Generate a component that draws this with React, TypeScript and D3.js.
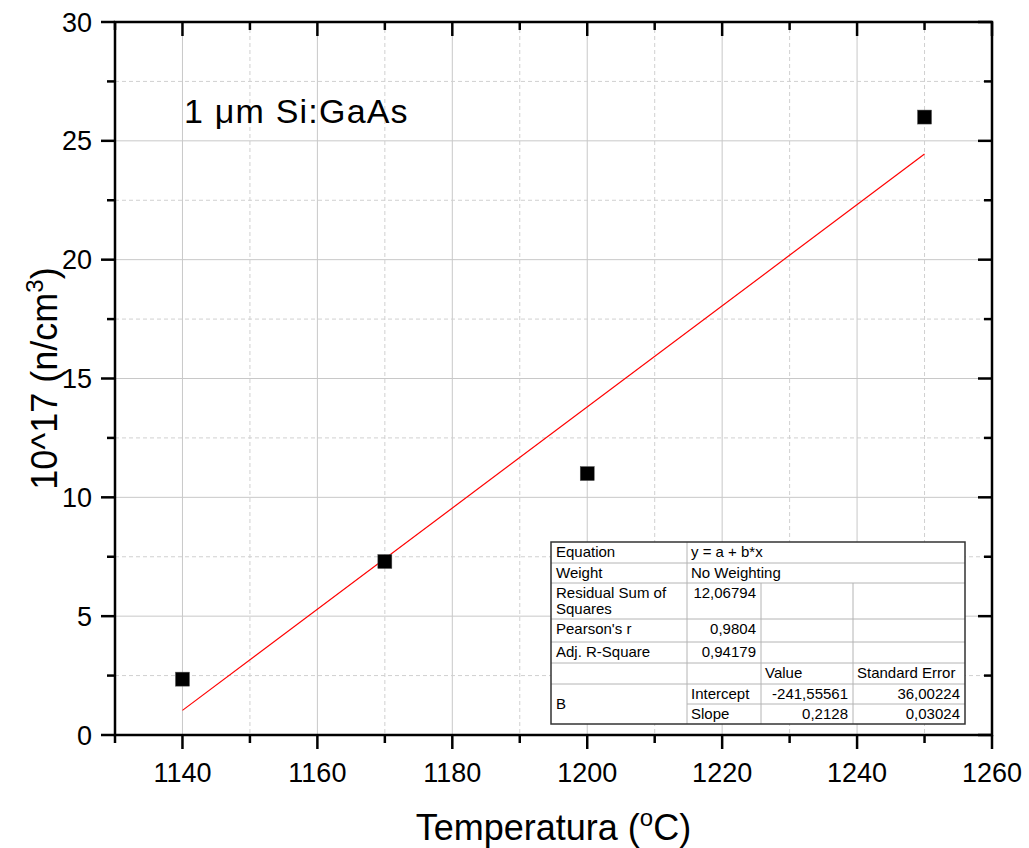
import { useEffect, useRef } from "react";
import * as d3 from "d3";

// data
const temperatures = [1140, 1170, 1200, 1250];
const concentrations = [2.35, 7.3, 11.0, 26.0];
const fitIntercept = -241.55561;
const fitSlope = 0.2128;
const xTicks = [1140, 1160, 1180, 1200, 1220, 1240, 1260];
const yTicks = [0, 5, 10, 15, 20, 25, 30];

const tableRows = [
  ["Equation", "y = a + b*x"],
  ["Weight", "No Weighting"],
  ["Residual Sum of|Squares", "12,06794"],
  ["Pearson's r", "0,9804"],
  ["Adj. R-Square", "0,94179"],
];
const tableParams = [
  ["Intercept", "-241,55561", "36,00224"],
  ["Slope", "0,2128", "0,03024"],
];

export default function App() {
  const ref = useRef<SVGSVGElement>(null);

  useEffect(() => {
    const svg = d3.select(ref.current);
    svg.selectAll("*").remove();
    const W = 1029, H = 848;
    const m = { left: 115, right: 992, top: 22, bottom: 735 };
    const font = "Liberation Sans, Arial, Helvetica, sans-serif";

    const x = d3.scaleLinear().domain([1130, 1260]).range([m.left, m.right]);
    const y = d3.scaleLinear().domain([0, 30]).range([m.bottom, m.top]);

    const g = svg.append("g");

    // grid
    const xMinor = d3.range(1130, 1261, 10).filter((v) => v % 20 !== 0);
    const yMinor = d3.range(2.5, 30, 5);
    g.selectAll(".gx").data(xTicks.slice(0, -1)).join("line")
      .attr("x1", (d) => x(d)).attr("x2", (d) => x(d))
      .attr("y1", m.top).attr("y2", m.bottom)
      .attr("stroke", "#c8c8c8").attr("stroke-width", 1);
    g.selectAll(".gxm").data(xMinor.filter((v) => v > 1130)).join("line")
      .attr("x1", (d) => x(d)).attr("x2", (d) => x(d))
      .attr("y1", m.top).attr("y2", m.bottom)
      .attr("stroke", "#d0d0d0").attr("stroke-width", 1).attr("stroke-dasharray", "4,3");
    g.selectAll(".gy").data(yTicks.slice(1, -1)).join("line")
      .attr("x1", m.left).attr("x2", m.right)
      .attr("y1", (d) => y(d)).attr("y2", (d) => y(d))
      .attr("stroke", "#c8c8c8").attr("stroke-width", 1);
    g.selectAll(".gym").data(yMinor).join("line")
      .attr("x1", m.left).attr("x2", m.right)
      .attr("y1", (d) => y(d)).attr("y2", (d) => y(d))
      .attr("stroke", "#d0d0d0").attr("stroke-width", 1).attr("stroke-dasharray", "4,3");

    // fit line
    g.append("line")
      .attr("x1", x(1140)).attr("y1", y(fitIntercept + fitSlope * 1140))
      .attr("x2", x(1250)).attr("y2", y(fitIntercept + fitSlope * 1250))
      .attr("stroke", "#ff0000").attr("stroke-width", 1.2);

    // points
    g.selectAll(".pt").data(temperatures).join("rect")
      .attr("x", (d) => x(d) - 7).attr("y", (_, i) => y(concentrations[i]) - 7)
      .attr("width", 14).attr("height", 14)
      .attr("fill", "#000").attr("stroke", "#555").attr("stroke-width", 0.5);

    // frame
    g.append("rect")
      .attr("x", m.left).attr("y", m.top)
      .attr("width", m.right - m.left).attr("height", m.bottom - m.top)
      .attr("fill", "none").attr("stroke", "#000").attr("stroke-width", 2.5);

    // ticks
    const major = 14, minor = 8;
    const allX = d3.range(1130, 1261, 10);
    allX.forEach((v) => {
      const len = v % 20 === 0 ? major : minor;
      g.append("line").attr("x1", x(v)).attr("x2", x(v))
        .attr("y1", m.bottom).attr("y2", m.bottom + len)
        .attr("stroke", "#000").attr("stroke-width", 2.5);
      g.append("line").attr("x1", x(v)).attr("x2", x(v))
        .attr("y1", m.top).attr("y2", m.top + len)
        .attr("stroke", "#000").attr("stroke-width", 2.5);
    });
    d3.range(0, 30.1, 2.5).forEach((v) => {
      const len = v % 5 === 0 ? major : minor;
      g.append("line").attr("x1", m.left - len).attr("x2", m.left)
        .attr("y1", y(v)).attr("y2", y(v))
        .attr("stroke", "#000").attr("stroke-width", 2.5);
      g.append("line").attr("x1", m.right - len).attr("x2", m.right)
        .attr("y1", y(v)).attr("y2", y(v))
        .attr("stroke", "#000").attr("stroke-width", 2.5);
    });

    // tick labels
    g.selectAll(".xl").data(xTicks).join("text")
      .attr("x", (d) => x(d)).attr("y", 782)
      .attr("text-anchor", "middle").attr("font-family", font).attr("font-size", 27)
      .text((d) => d);
    g.selectAll(".yl").data(yTicks).join("text")
      .attr("x", 92).attr("y", (d) => y(d) + 9.5)
      .attr("text-anchor", "end").attr("font-family", font).attr("font-size", 27)
      .text((d) => d);

    // axis titles
    const xt = g.append("text").attr("x", x(1195)).attr("y", 840)
      .attr("text-anchor", "middle").attr("font-family", font).attr("font-size", 36);
    xt.append("tspan").text("Temperatura (");
    xt.append("tspan").attr("font-size", 24).attr("dy", -14).text("o");
    xt.append("tspan").attr("dy", 14).text("C)");

    const yt = g.append("text")
      .attr("transform", `translate(57,${y(15)}) rotate(-90)`)
      .attr("text-anchor", "middle").attr("font-family", font).attr("font-size", 36);
    yt.append("tspan").text("10^17 (n/cm");
    yt.append("tspan").attr("font-size", 24).attr("dy", -14).text("3");
    yt.append("tspan").attr("dy", 14).text(")");

    g.append("text").attr("x", 184).attr("y", 123)
      .attr("font-family", font).attr("font-size", 34).attr("letter-spacing", 1.2)
      .text("1 μm Si:GaAs");

    // fit table
    const tx = 551, tr = 965, c1 = 687, c2 = 761, c3 = 853;
    const rowY = [542, 563, 583, 619, 642, 663, 684, 704, 724];
    const tg = g.append("g").attr("font-family", font).attr("font-size", 15);
    tg.append("rect").attr("x", tx).attr("y", rowY[0])
      .attr("width", tr - tx).attr("height", rowY[8] - rowY[0]).attr("fill", "#fff");
    const line = (x1: number, y1: number, x2: number, y2: number) =>
      tg.append("line").attr("x1", x1).attr("y1", y1).attr("x2", x2).attr("y2", y2)
        .attr("stroke", "#b4b4b4").attr("stroke-width", 1);
    for (let i = 1; i < 8; i++) line(i === 7 ? c1 : tx, rowY[i], tr, rowY[i]);
    line(c1, rowY[0], c1, rowY[8]);
    line(c2, rowY[2], c2, rowY[8]);
    line(c3, rowY[2], c3, rowY[8]);
    tg.append("rect").attr("x", tx).attr("y", rowY[0])
      .attr("width", tr - tx).attr("height", rowY[8] - rowY[0])
      .attr("fill", "none").attr("stroke", "#333").attr("stroke-width", 1.5);

    tableRows.forEach((r, i) => {
      const top = rowY[i];
      r[0].split("|").forEach((s, k) => {
        tg.append("text").attr("x", tx + 5).attr("y", top + 15 + k * 16).text(s);
      });
      if (i < 2) tg.append("text").attr("x", c1 + 4).attr("y", top + 15).text(r[1]);
      else tg.append("text").attr("x", c2 - 5).attr("y", top + 15)
        .attr("text-anchor", "end").text(r[1]);
    });
    tg.append("text").attr("x", c2 + 4).attr("y", rowY[5] + 15).text("Value");
    tg.append("text").attr("x", c3 + 4).attr("y", rowY[5] + 15).text("Standard Error");
    tg.append("text").attr("x", tx + 5).attr("y", (rowY[6] + rowY[8]) / 2 + 5).text("B");
    tableParams.forEach((p, i) => {
      const top = rowY[6 + i];
      tg.append("text").attr("x", c1 + 4).attr("y", top + 15).text(p[0]);
      tg.append("text").attr("x", c3 - 5).attr("y", top + 15).attr("text-anchor", "end").text(p[1]);
      tg.append("text").attr("x", tr - 5).attr("y", top + 15).attr("text-anchor", "end").text(p[2]);
    });

    svg.attr("width", W).attr("height", H);
  }, []);

  return (
    <svg ref={ref} width={1029} height={848}
      style={{ position: "absolute", left: 0, top: 0, background: "#fff" }} />
  );
}
